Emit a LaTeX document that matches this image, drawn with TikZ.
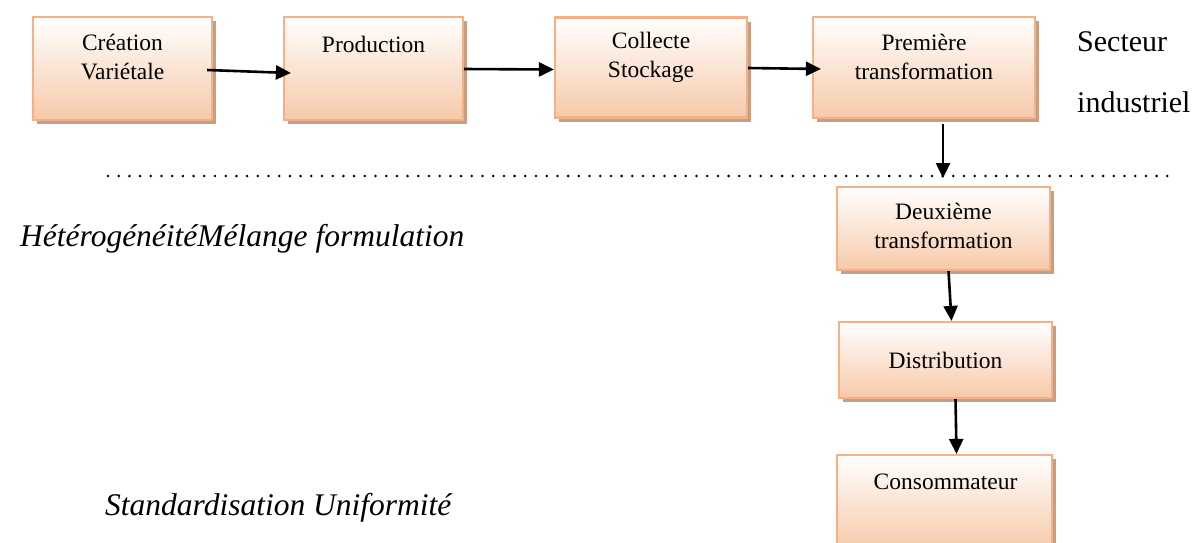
\documentclass[tikz,border=0pt]{standalone}
\usepackage{fontspec}
\setmainfont{Liberation Serif}
\usetikzlibrary{arrows.meta,shadows,calc}
\definecolor{boxedge}{HTML}{F4B183}
\definecolor{boxfill}{HTML}{F7C9A9}
\definecolor{boxshade}{HTML}{C49F86}

\tikzset{
  stage/.style={draw=boxedge, line width=2.2pt, top color=white, bottom color=boxfill,
    general shadow={fill=boxshade, shadow xshift=4pt, shadow yshift=-4pt}, inner sep=0pt},
  stagetext/.style={font=\fontsize{23.5}{29}\selectfont, align=center, inner sep=0pt},
  flow/.style={line width=2.6pt, -{Triangle[length=15pt,width=14pt]}},
  sidetext/.style={font=\fontsize{31.5}{36}\selectfont\itshape, anchor=base west, inner sep=0pt},
  sectortext/.style={font=\fontsize{30}{34}\selectfont, anchor=west, inner sep=0pt},
  separator/.style={line width=2.8pt, line cap=round, dash pattern=on 0pt off 10.7pt}
}

\begin{document}
\begin{tikzpicture}[x=1pt,y=-1pt]
\useasboundingbox (0,0) rectangle (1198,542);
\clip (0,0) rectangle (1198,542);

% stage boxes
\node[stage, minimum width=179pt, minimum height=103pt] (b1) at (122.5,68.5) {};
\node[stage, minimum width=179pt, minimum height=103pt] (b2) at (373.5,68.5) {};
\node[stage, minimum width=192pt, minimum height=100pt] (b3) at (651,67.5) {};
\node[stage, minimum width=222pt, minimum height=101pt] (b4) at (924,67.5) {};
\node[stage, minimum width=213pt, minimum height=83pt] (b5) at (943.5,228.5) {};
\node[stage, minimum width=213pt, minimum height=76pt] (b6) at (945.5,360) {};
\node[stage, minimum width=215pt, minimum height=95pt] (b7) at (944.5,502.5) {};

% stage labels
\node[stagetext] (t1) at (122.5,57) {Création\\Variétale};
\node[stagetext] (t2) at (373.5,44) {Production};
\node[stagetext] (t3) at (651,57) {Collecte\\Stockage};
\node[stagetext] (t4) at (924,57) {Première\\transformation};
\node[stagetext] (t5) at (943.5,226) {Deuxième\\transformation};
\node[stagetext] (t6) at (945.5,360) {Distribution};
\node[stagetext] (t7) at (945.5,482) {Consommateur};

% side labels
\node[sectortext] (s1) at (1077,42) {Secteur};
\node[sectortext] (s2) at (1077,102) {industriel};
\node[sidetext] (h1) at (20,246) {HétérogénéitéMélange formulation};
\node[sidetext] (h2) at (105,515) {Standardisation Uniformité};

% dotted separator
\coordinate (dl) at (108,176);
\coordinate (dr) at (1176,176);
\draw[separator] (dl) -- (dr);

% flow arrows (a positive yshift moves up on the page)
\coordinate (d4) at (943,178);
\draw[flow] ([xshift=-6pt,yshift=-1.5pt]b1.east) -- ([xshift=8pt,yshift=-4.5pt]b2.west);
\draw[flow] ([yshift=-0.5pt]b2.east) -- ([yshift=-2pt]b3.west);
\draw[flow] ([yshift=-0.5pt]b3.east) -- ([xshift=9pt,yshift=-1.5pt]b4.west);
\draw[flow] ([yshift=-5pt]b4.south -| d4) -- (d4);
\draw[flow] ([xshift=5pt]b5.south) -- ([xshift=6pt]b6.north);
\draw[flow] ([xshift=10pt]b6.south) -- ([xshift=12pt]b7.north);
\end{tikzpicture}
\end{document}
